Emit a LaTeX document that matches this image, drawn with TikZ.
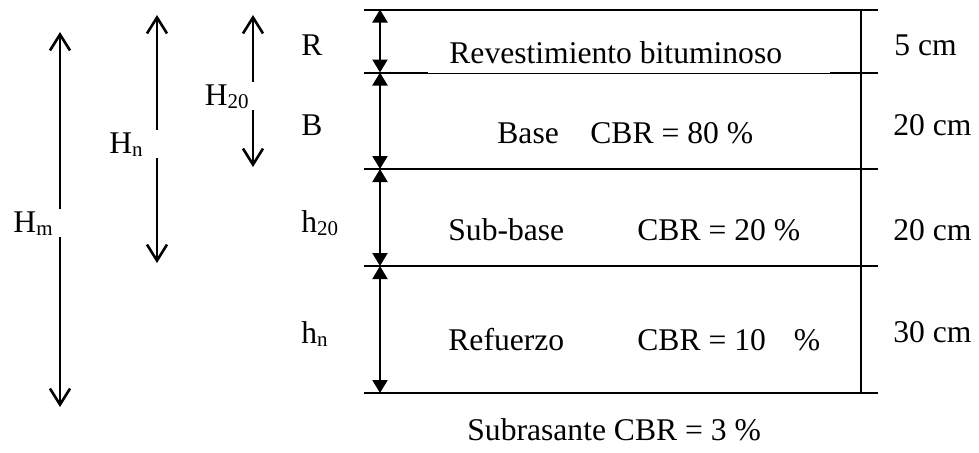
\documentclass[tikz,border=0pt]{standalone}
\usepackage{fontspec}
\setmainfont{Liberation Serif}
\usetikzlibrary{arrows.meta}
\newcommand{\lowsub}[1]{\raisebox{-1.5pt}{\fontsize{10.5}{12}\selectfont#1}}
\tikzset{layer/.style={line width=1pt},thinline/.style={line width=.5pt},dim/.style={{Triangle[length=6.5pt,width=7.5pt]}-{Triangle[length=6.5pt,width=7.5pt]},line width=1pt},total/.style={{Straight Barb[length=8pt,width=10pt]}-{Straight Barb[length=8pt,width=10pt]},line width=1.3pt},lbl/.style={anchor=base west,inner sep=0pt,font=\fontsize{15.8}{19}\selectfont},tag/.style={lbl,anchor=base east,fill=white,inner ysep=1pt}}

\begin{document}
\begin{tikzpicture}[x=.5pt,y=-.5pt]
      \useasboundingbox (0,0) rectangle (979,452);
      \coordinate(L0) at (364,9.5);\coordinate(L1) at (364,72.5);\coordinate(L2) at (364,169);\coordinate(L3) at (364,266);\coordinate(L4) at (364,393);
      \coordinate(R0) at (878,9.5);\coordinate(R1) at (878,72.5);\coordinate(R2) at (878,169);\coordinate(R3) at (878,266);\coordinate(R4) at (878,393);
      \coordinate(d0) at (380,9.5);\coordinate(d1) at (380,72.5);\coordinate(d2) at (380,169);\coordinate(d3) at (380,266);\coordinate(d4) at (380,393);
      \coordinate(v0) at (861,9.5);\coordinate(v4) at (861,393);
      \coordinate(u0) at (428,72.5);\coordinate(u1) at (830,72.5);
      \draw[layer](L0)--(R0);\draw[layer](L2)--(R2);\draw[layer](L3)--(R3);\draw[layer](L4)--(R4);
      \draw[layer](L1)--(u0);\draw[layer](u1)--(R1);\draw[thinline]([yshift=-.5pt]u0)--([yshift=-.5pt]u1);
      \draw[layer](v0)--(v4);
      \draw[dim](d0)--(d1);\draw[dim](d1)--(d2);\draw[dim](d2)--(d3);\draw[dim](d3)--(d4);
      \coordinate(hmtop) at (60,32);\coordinate(hmbot) at (60,407);
      \coordinate(hntop) at (157,15);\coordinate(hnbot) at (157,263);
      \coordinate(htop) at (253,15);\coordinate(hbot) at (253,167);
      \draw[total](hmtop)--(hmbot);\draw[total](hntop)--(hnbot);\draw[total](htop)--(hbot);
      \node[tag,inner xsep=4pt](Hm) at (61,232){H\lowsub{m}};
      \node[tag,inner xsep=7.5pt](Hn) at (158,153){H\lowsub{n}};
      \node[tag,inner xsep=2.5pt](H20) at (254,105){H\lowsub{20}};
      \node[lbl](R) at (301,55){R};
      \node[lbl](B) at (301,135){B};
      \node[lbl](h20) at (301,232){h\lowsub{20}};
      \node[lbl](hn) at (301,343){h\lowsub{n}};
      \node[lbl](rev) at (449,63){Revestimiento bituminoso};
      \node[lbl](base) at (497,143){Base};\node[lbl](basecbr) at (590,143){CBR = 80 \%};
      \node[lbl](sub) at (448,240){Sub-base};\node[lbl](subcbr) at (637,240){CBR = 20 \%};
      \node[lbl](ref) at (448,350){Refuerzo};\node[lbl](refcbr) at (637,350){CBR = 10\hspace{14pt}\%};
      \node[lbl](subr) at (467,440){Subrasante CBR = 3 \%};
      \node[lbl](t5) at (894,55){5 cm};
      \node[lbl](t20a) at (893,135){20 cm};
      \node[lbl](t20b) at (893,240){20 cm};
      \node[lbl](t30) at (893,342){30 cm};
    \end{tikzpicture}
\end{document}
